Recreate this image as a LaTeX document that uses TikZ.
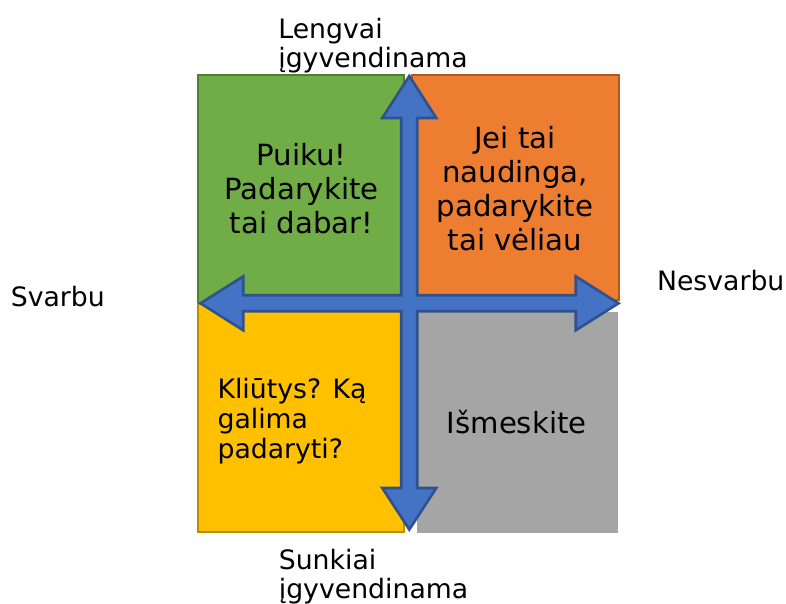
\documentclass[tikz,border=0pt]{standalone}
\usepackage{fontspec}
\setmainfont{DejaVu Sans}
\definecolor{qgreen}{HTML}{70AD47}
\definecolor{qgreenline}{HTML}{507E32}
\definecolor{qorange}{HTML}{ED7D31}
\definecolor{qorangeline}{HTML}{AE5A21}
\definecolor{qyellow}{HTML}{FFC000}
\definecolor{qyellowline}{HTML}{BC8C00}
\definecolor{qgray}{HTML}{A5A5A5}
\definecolor{axisblue}{HTML}{4472C4}
\definecolor{axisline}{HTML}{2F528F}

\begin{document}
\begin{tikzpicture}[x=0.02cm,y=-0.02cm,
    quad/.style={line width=1.2pt},
    lbl/.style={inner sep=0pt,align=left,font=\fontsize{15.2}{16.5}\selectfont},
    big/.style={inner sep=0pt,align=center,font=\fontsize{16.6}{19.3}\selectfont}]
  \useasboundingbox (0,0) rectangle (786,603);

  % the four fields
  \draw[quad,fill=qgreen,draw=qgreenline] (198,75) rectangle (404,303);
  \draw[quad,fill=qorange,draw=qorangeline] (412,75) rectangle (619,300);
  \draw[quad,fill=qyellow,draw=qyellowline] (198,304) rectangle (404,532);
  \fill[qgray] (417,312) rectangle (618,533);

  % axes
  \draw[line width=1.5pt,fill=axisblue,draw=axisline]
    (409.3,76) -- (436.3,118) -- (417.3,118) -- (417.3,295.3)
    -- (575.7,295.3) -- (575.7,276.3) -- (618.5,303.3) -- (575.7,330.3)
    -- (575.7,311.3) -- (417.3,311.3) -- (417.3,488) -- (436.3,488)
    -- (409.3,529.5) -- (382.3,488) -- (401.3,488) -- (401.3,311.3)
    -- (243.3,311.3) -- (243.3,330.3) -- (200.5,303.3) -- (243.3,276.3)
    -- (243.3,295.3) -- (401.3,295.3) -- (401.3,118) -- (382.3,118) -- cycle;

  % axis labels
  \node[lbl,anchor=north west] (easy) at (278,18) {Lengvai\\įgyvendinama};
  \node[lbl,anchor=north west] (hard) at (278.5,549) {Sunkiai\\įgyvendinama};
  \node[lbl,anchor=base west] (important) at (10.5,306.7) {Svarbu};
  \node[lbl,anchor=base west] (unimportant) at (656.7,290) {Nesvarbu};

  % field texts
  \node[big,anchor=north] (now) at (301.5,143) {Puiku!\\Padarykite\\tai dabar!};
  \node[big,anchor=north] (later) at (515,126.3) {Jei tai\\naudinga,\\padarykite\\tai vėliau};
  \node[big,anchor=base] (drop) at (516.7,433) {Išmeskite};
  \node[lbl,anchor=north west,font=\fontsize{15.2}{17.1}\selectfont] (obstacles) at (217.2,378) {Kliūtys? Ką\\galima\\padaryti?};
\end{tikzpicture}
\end{document}
